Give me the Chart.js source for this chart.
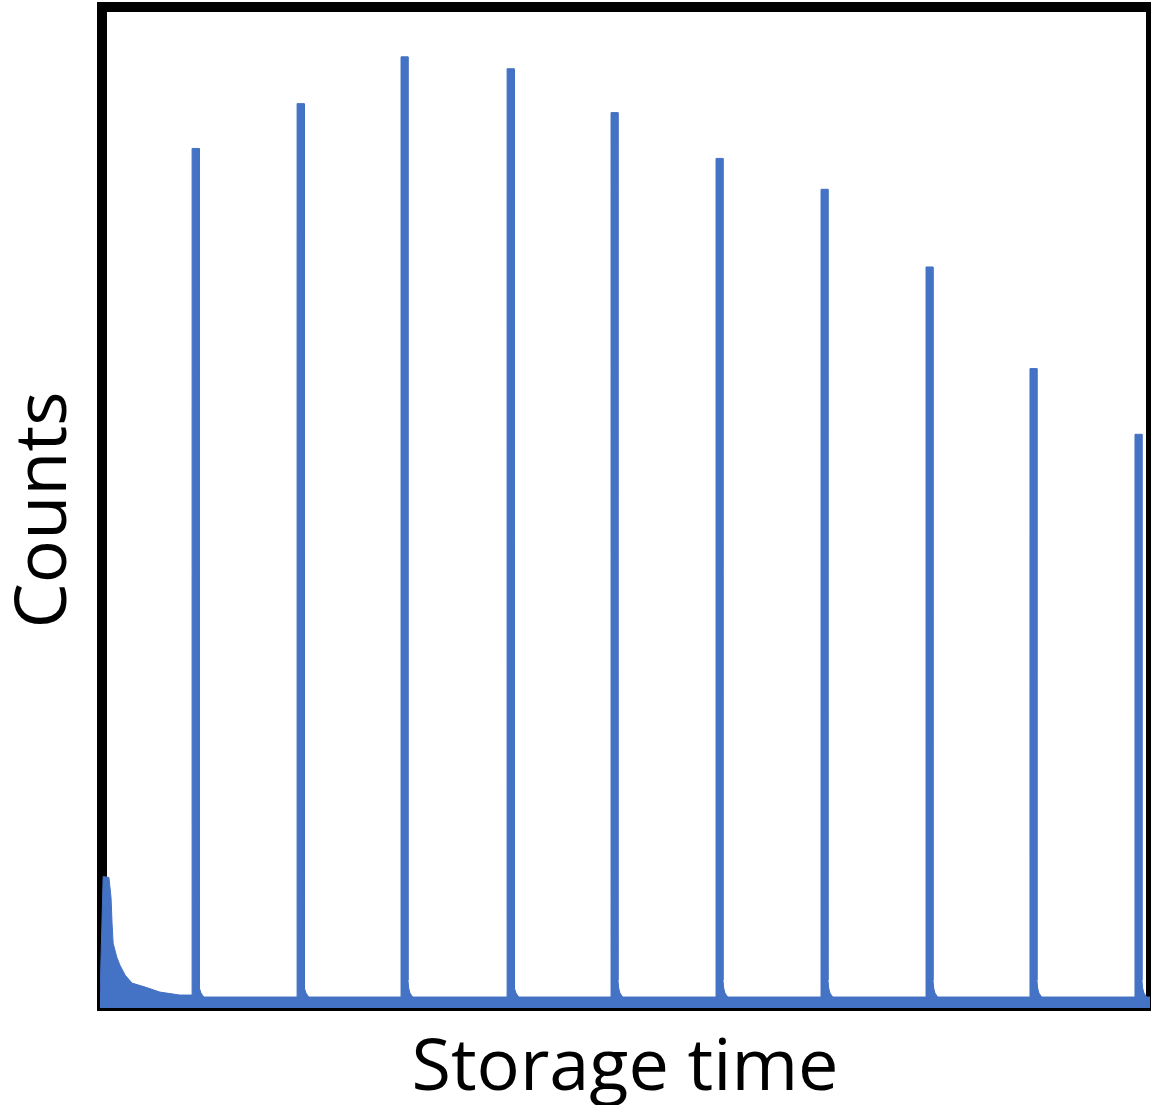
<!DOCTYPE html>
<html>
<head>
<meta charset="utf-8">
<style>
  html, body { margin: 0; padding: 0; background: #ffffff; }
  #c { display: block; }
</style>
<script src="https://cdn.jsdelivr.net/npm/chart.js@4/dist/chart.umd.min.js"></script>
</head>
<body>
<canvas id="c" width="1151" height="1105"></canvas>
<script>
// ---- data ----
const xTitle = "Storage time";
const yTitle = "Counts";
// spike (detection) times and their peak counts
const spikeTimes  = [9.1, 19.1, 29.0, 39.1, 49.0, 59.0, 69.0, 79.0, 88.9, 98.9];
const spikeCounts = [863, 908, 955, 943, 899, 853, 822, 744, 642, 576];
// initial decay right after filling
const decayTimes  = [0, 0.3, 0.85, 1.05, 1.15, 1.25, 1.6, 1.9, 2.4, 3.05, 4.3, 5.7, 7.6, 8.7];
const decayCounts = [12, 132, 131, 111, 85, 65, 51, 43, 33, 25, 21, 16, 13, 13];
// background level between spikes
const baselineCounts = [13, 11, 11, 11, 11, 11, 11, 11, 11, 11];
// shape of each spike (offsets from spike time) and its short tail
const spikeHalfWidth = 0.33;
const tailOffsets = [0.33, 0.4, 0.52, 0.78];
const tailCounts  = [28, 20, 15, 11];

// ---- build the series ----
const points = [];
decayTimes.forEach((t, i) => points.push({x: t, y: decayCounts[i]}));
spikeTimes.forEach((t, i) => {
  const base = baselineCounts[i];
  points.push({x: t - spikeHalfWidth, y: base});
  points.push({x: t - spikeHalfWidth, y: spikeCounts[i]});
  points.push({x: t + spikeHalfWidth, y: spikeCounts[i]});
  tailOffsets.forEach((o, k) => points.push({x: t + o, y: tailCounts[k]}));
  const next = spikeTimes[i + 1];
  if (next !== undefined) {
    points.push({x: next - spikeHalfWidth, y: baselineCounts[i + 1]});
  } else {
    points.push({x: 100, y: base});
  }
});

const framePlugin = {
  id: 'frame',
  beforeDatasetsDraw(chart) {
    const ctx = chart.ctx;
    const a = chart.chartArea;
    ctx.save();
    ctx.fillStyle = '#000000';
    ctx.fillRect(a.left - 3, a.top - 10, 10, a.bottom - a.top + 13);       // left
    ctx.fillRect(a.left - 3, a.top - 10, 1151 - a.left + 3, 10);          // top
    ctx.fillRect(a.right - 4, a.top - 10, 1151 - a.right + 4, a.bottom - a.top + 13); // right
    ctx.fillRect(a.left - 3, a.bottom, 1151 - a.left + 3, 3);             // bottom
    ctx.restore();
  }
};

new Chart(document.getElementById('c'), {
  type: 'line',
  data: {
    datasets: [{
      data: points,
      borderColor: '#4472C4',
      backgroundColor: '#4472C4',
      borderWidth: 1,
      pointRadius: 0,
      tension: 0,
      fill: 'origin'
    }]
  },
  options: {
    responsive: false,
    animation: false,
    events: [],
    layout: { padding: { top: 12, right: 1, bottom: 0, left: 0 } },
    plugins: { legend: { display: false }, tooltip: { enabled: false } },
    scales: {
      x: {
        type: 'linear', min: 0, max: 100,
        grid: { display: false, drawTicks: false },
        border: { display: false },
        ticks: { display: false },
        title: {
          display: true, text: xTitle, color: '#000000',
          font: { family: "'Open Sans', sans-serif", size: 72, lineHeight: 1.0 },
          padding: { top: 25, bottom: 0 }
        }
      },
      y: {
        type: 'linear', min: 0, max: 1000,
        grid: { display: false, drawTicks: false },
        border: { display: false },
        ticks: { display: false },
        title: {
          display: true, text: yTitle, color: '#000000',
          font: { family: "'Open Sans', sans-serif", size: 72, lineHeight: 1.0 },
          padding: { top: 9, bottom: 19 }
        }
      }
    }
  },
  plugins: [framePlugin]
});
</script>
</body>
</html>
